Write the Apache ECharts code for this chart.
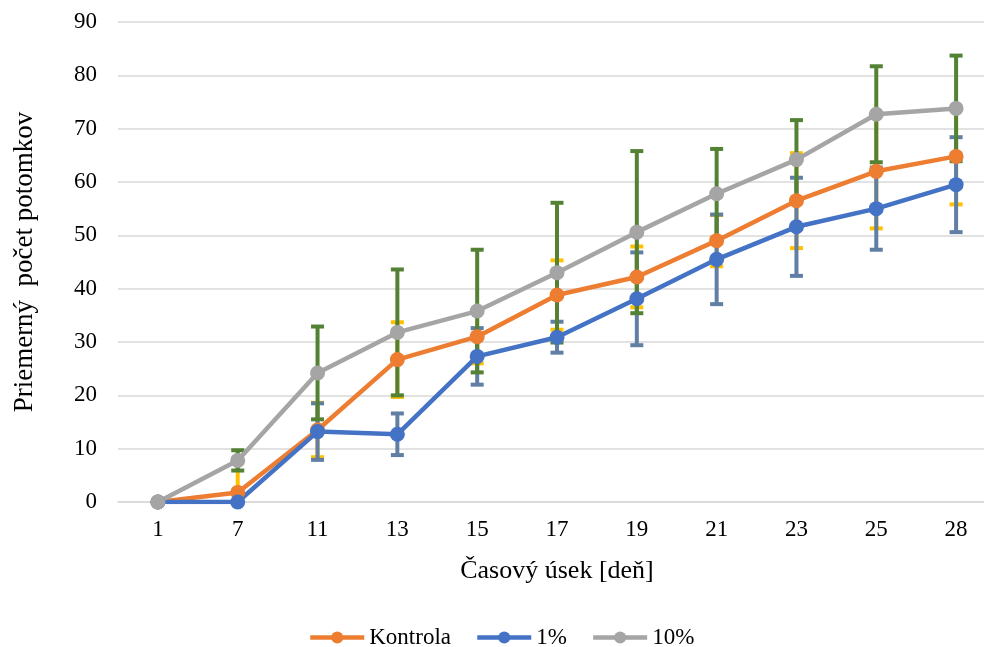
<!DOCTYPE html>
<html>
<head>
<meta charset="utf-8">
<script src="https://cdn.jsdelivr.net/npm/echarts@6/dist/echarts.min.js"></script>
<style>
  html, body { margin: 0; padding: 0; background: #fff; }
  #chart { width: 984px; height: 647px; }
</style>
</head>
<body>
<div id="chart"></div>
<script>
// dni merania
var days = ['1', '7', '11', '13', '15', '17', '19', '21', '23', '25', '28'];

// priemery
var kontrola = [0, 1.8, 13.5, 26.7, 31.0, 38.8, 42.2, 49.0, 56.5, 62.0, 64.8];
var pct1 = [0, 0, 13.2, 12.7, 27.3, 30.9, 38.1, 45.5, 51.6, 55.0, 59.5];
var pct10 = [0, 7.8, 24.2, 31.8, 35.8, 43.0, 50.6, 57.8, 64.2, 72.7, 73.8];

// smerodajne odchylky (+/-)
var kontrolaErr = [0, 5.5, 5.1, 7.0, 5.0, 6.5, 5.7, 4.8, 8.9, 10.7, 9.0];
var pct1Err = [0, 0, 5.3, 3.9, 5.3, 2.9, 8.7, 8.4, 9.2, 7.7, 8.9];
var pct10Err = [0, 1.9, 8.7, 11.8, 11.5, 13.1, 15.2, 8.4, 7.4, 9.0, 9.9];

var yTicks = [0, 10, 20, 30, 40, 50, 60, 70, 80, 90];

var FONT = '"Liberation Serif", "Times New Roman", serif';

function errData(vals, errs) {
    var out = [];
    for (var i = 0; i < vals.length; i++) {
        if (errs[i] > 0) {
            out.push([i, vals[i] - errs[i], vals[i] + errs[i]]);
        }
    }
    return out;
}

function errSeries(name, vals, errs, color) {
    return {
        name: name + ' err',
        type: 'custom',
        z: 1,
        silent: true,
        data: errData(vals, errs),
        renderItem: function (params, api) {
            var cs = params.coordSys;
            var x = api.coord([api.value(0), 0])[0];
            var yLow = Math.min(api.coord([api.value(0), api.value(1)])[1], cs.y + cs.height);
            var yHigh = Math.max(api.coord([api.value(0), api.value(2)])[1], cs.y);
            var half = 6.5;
            var style = { stroke: color, lineWidth: 4, fill: null };
            var children = [
                { type: 'line', shape: { x1: x, y1: yLow, x2: x, y2: yHigh }, style: style }
            ];
            if (api.value(2) <= 90) {
                children.push({ type: 'line', shape: { x1: x - half, y1: yHigh, x2: x + half, y2: yHigh }, style: style });
            }
            if (api.value(1) >= 0) {
                children.push({ type: 'line', shape: { x1: x - half, y1: yLow, x2: x + half, y2: yLow }, style: style });
            }
            return { type: 'group', children: children };
        }
    };
}

function lineSeries(name, vals, color) {
    return {
        name: name,
        type: 'line',
        z: 3,
        data: vals,
        symbol: 'circle',
        symbolSize: 15,
        lineStyle: { color: color, width: 4.5 },
        itemStyle: { color: color },
        emphasis: { disabled: true }
    };
}

var chart = echarts.init(document.getElementById('chart'));

var option = {
    animation: false,
    textStyle: { fontFamily: FONT },
    grid: { left: 118, width: 878, top: 22, height: 480, containLabel: false, outerBoundsMode: 'none' },
    legend: {
        data: ['Kontrola', '1%', '10%'],
        left: 303,
        top: 621,
        itemWidth: 54,
        itemHeight: 15,
        itemGap: 24,
        lineStyle: { width: 4.5 },
        textStyle: { fontFamily: FONT, fontSize: 23, color: '#000' }
    },
    xAxis: {
        type: 'category',
        data: days,
        boundaryGap: true,
        name: 'Časový úsek [deň]',
        nameLocation: 'middle',
        nameGap: 56,
        nameTextStyle: { fontFamily: FONT, fontSize: 26, color: '#000' },
        axisLine: { lineStyle: { color: '#D9D9D9', width: 1.5 } },
        axisTick: { show: false },
        axisLabel: { fontFamily: FONT, fontSize: 23, color: '#000', margin: 16 }
    },
    yAxis: {
        type: 'value',
        min: 0,
        max: 90,
        interval: 10,
        name: 'Priemerný  počet potomkov',
        nameLocation: 'middle',
        nameGap: 80,
        nameTextStyle: { fontFamily: FONT, fontSize: 27, color: '#000' },
        axisLine: { show: false },
        axisTick: { show: false },
        axisLabel: {
            fontFamily: FONT, fontSize: 23, color: '#000', margin: 21,
            formatter: function (v) { return yTicks.indexOf(v) >= 0 ? String(v) : ''; }
        },
        splitLine: { lineStyle: { color: '#D9D9D9', width: 1.5 } }
    },
    series: [
        errSeries('Kontrola', kontrola, kontrolaErr, '#FFC000'),
        errSeries('1%', pct1, pct1Err, '#617FA4'),
        errSeries('10%', pct10, pct10Err, '#548235'),
        lineSeries('Kontrola', kontrola, '#ED7D31'),
        lineSeries('1%', pct1, '#4472C4'),
        lineSeries('10%', pct10, '#A5A5A5')
    ]
};

chart.setOption(option);
</script>
</body>
</html>
